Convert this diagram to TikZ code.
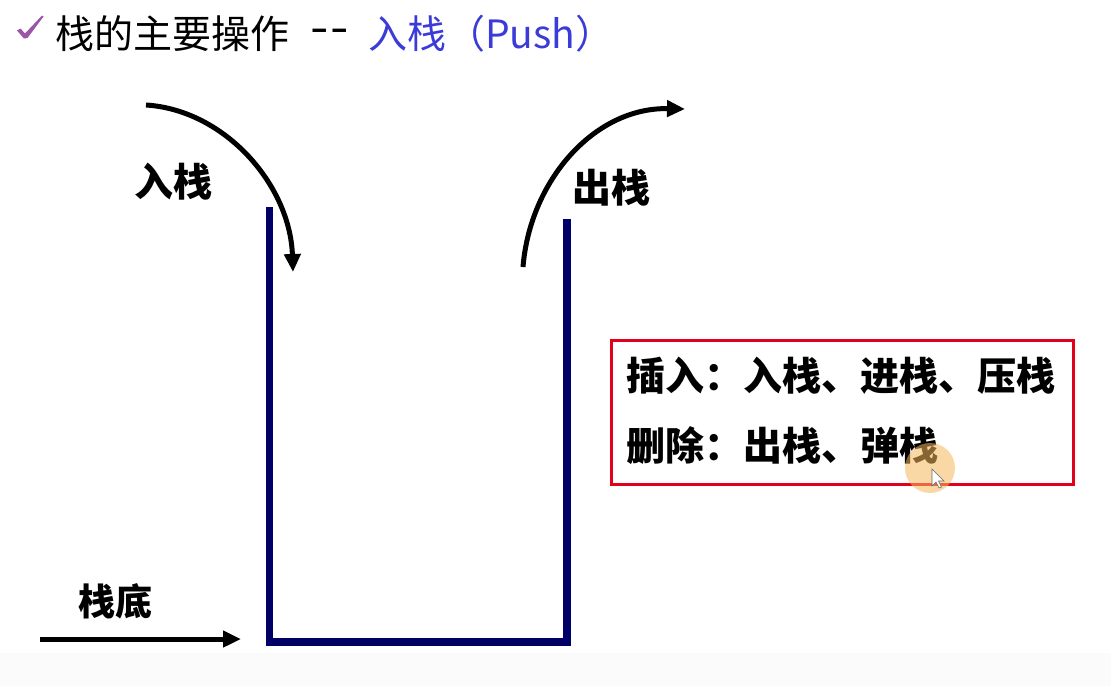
\documentclass[tikz,border=0pt]{standalone}
\usepackage{fontspec}
\setmainfont{Noto Sans CJK SC}
\usetikzlibrary{arrows.meta}
\definecolor{navy}{HTML}{000066}
\definecolor{ttlblue}{HTML}{3B3BD9}
\definecolor{chk}{HTML}{9A55A8}
\definecolor{boxred}{HTML}{E3001B}
\definecolor{hilite}{HTML}{F5B95E}
\begin{document}
\begin{tikzpicture}[x=1pt,y=-1pt,
  lbl/.style={font=\fontsize{39}{42}\selectfont\bfseries, inner sep=0pt, anchor=west},
  ttl/.style={font=\fontsize{39}{42}\selectfont, inner sep=0pt, anchor=west},
  arr/.style={line width=5pt, -{Triangle[length=18pt,width=16pt]}},
  stk/.style={line width=7.5pt, draw=navy}]
\useasboundingbox (0,0) rectangle (1111,686);
\fill[white] (0,0) rectangle (1111,686);
\fill[black!1.5] (0,653) rectangle (1111,686);
% title
\fill[chk] (17,30.5) -- (20.5,28.5) -- (25,33.5) -- (42,15.5) -- (43.5,16.5) -- (27.5,38) -- (24,38.5) -- cycle;
\node[ttl] (title) at (55,34) {栈的主要操作};
\node[anchor=base west, inner sep=0pt, font=\fontsize{30}{30}\selectfont\bfseries] (dash) at (311,48.8) {\raisebox{9pt}{–}\kern4pt\raisebox{9pt}{–}};
\node[ttl, text=ttlblue] (push) at (368,34) {入栈（Push）};
% stack
\coordinate (lt) at (269.5,207);
\coordinate (lb) at (269.5,642);
\coordinate (rb) at (567,642);
\coordinate (rt) at (567,219);
\draw[stk] (lt) -- (lb) -- (rb) -- (rt);
% arrows
\coordinate (ins) at (146,105);
\coordinate (ine) at (293,272);
\draw[arr] (ins) .. controls (225,110) and (290,185) .. (ine);
\coordinate (outs) at (523,267);
\coordinate (oute) at (685,109);
\draw[arr] (outs) .. controls (530,180) and (595,107) .. (oute);
\coordinate (bots) at (40,639);
\coordinate (bote) at (241,639);
\draw[arr] (bots) -- (bote);
% labels
\node[lbl] (inlbl) at (134,182) {入栈};
\node[lbl] (outlbl) at (572,188) {出栈};
\node[lbl, font=\fontsize{37}{40}\selectfont\bfseries] (botlbl) at (78,601) {栈底};
% box
\draw[boxred, line width=3pt] (611,340) rectangle (1073,484);
\node[lbl] (ins1) at (626,376) {插入：入栈、进栈、压栈};
\node[lbl] (del1) at (626,446) {删除：出栈、弹栈};
% cursor highlight
\fill[hilite, opacity=0.55] (930,468) circle (25);
\filldraw[fill=white, draw=black!60, line width=0.6pt] (932,469) -- (932,486) -- (936,482) -- (939,488) -- (941.5,487) -- (938.5,481) -- (944,481) -- cycle;
\end{tikzpicture}
\end{document}
